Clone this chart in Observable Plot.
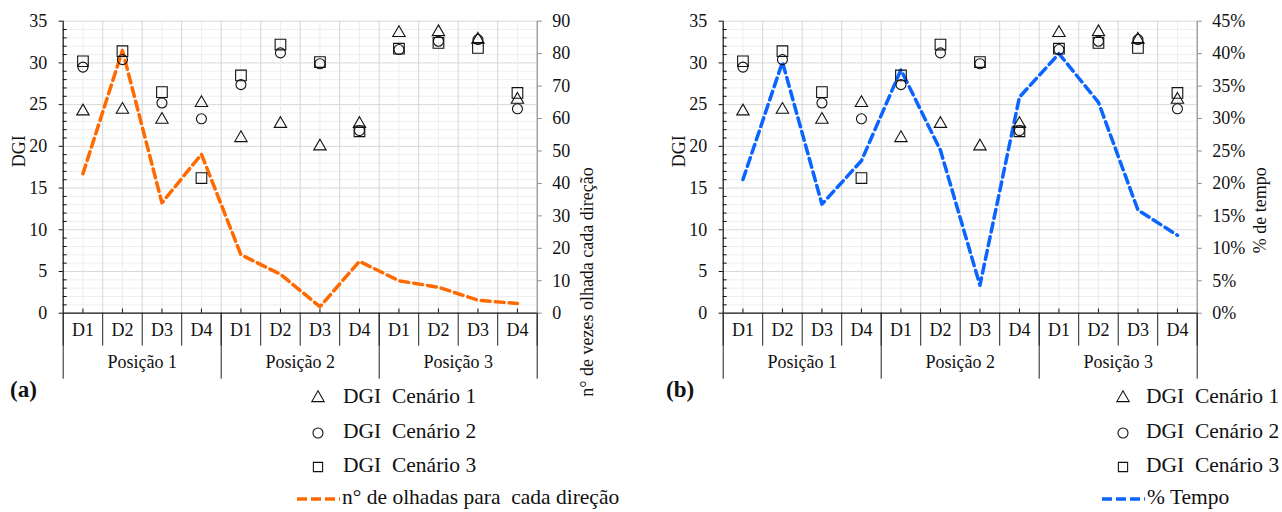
<!DOCTYPE html>
<html>
<head>
<meta charset="utf-8">
<script src="https://cdn.jsdelivr.net/npm/d3@7"></script>
<script src="https://cdn.jsdelivr.net/npm/@observablehq/plot@0.6"></script>
<style>
  body { margin: 0; background: #fff; }
  #wrap { position: relative; width: 1282px; height: 512px; font-family: "Liberation Serif", "Times New Roman", serif; color: #111; }
  .panel { position: absolute; top: 0; }
  .lg { position: absolute; font-size: 21.5px; white-space: pre; line-height: 1; }
  .lg svg { position: absolute; overflow: visible; }
  .tag { position: absolute; font-size: 23px; font-weight: bold; }
</style>
</head>
<body>
<div id="wrap"></div>
<script>
// ---- data ----
const directions = ["D1","D2","D3","D4","D1","D2","D3","D4","D1","D2","D3","D4"];
const positions = ["Posição 1","Posição 2","Posição 3"];
const dgiCenario1 = [24.2, 24.4, 23.2, 25.2, 21.0, 22.7, 20.0, 22.7, 33.6, 33.7, 32.8, 25.6];
const dgiCenario2 = [29.5, 30.4, 25.2, 23.3, 27.4, 31.2, 29.9, 21.9, 31.6, 32.6, 32.8, 24.5];
const dgiCenario3 = [30.2, 31.4, 26.5, 16.2, 28.5, 32.2, 30.1, 21.8, 31.7, 32.4, 31.8, 26.4];
const olhadas = [43, 81, 34, 49, 18, 12, 2, 16, 10, 8, 4, 3];          // right axis (a), 0–90
const tempoPct = [20.6, 38.7, 16.8, 23.5, 37.5, 25.1, 4.3, 33.3, 40.0, 32.5, 15.9, 12.0]; // right axis (b), 0–45 %
const dgiTicks = [0, 5, 10, 15, 20, 25, 30, 35];
const olhadasTicks = [0, 10, 20, 30, 40, 50, 60, 70, 80, 90];
const tempoTicks = [0, 5, 10, 15, 20, 25, 30, 35, 40, 45];

const FONT = '"Liberation Serif", "Times New Roman", serif';
const rows = directions.map((d, i) => ({
  i, x: i + 0.5, dir: d,
  c1: dgiCenario1[i], c2: dgiCenario2[i], c3: dgiCenario3[i],
  olh: olhadas[i] * 35 / 90,
  tmp: tempoPct[i] * 35 / 45
}));
const groups = positions.map((p, g) => ({ x: g * 4 + 2, label: p }));

function panel(opts) {
  const minor = d3.range(0, 36).filter(v => v % 5 !== 0);
  return Plot.plot({
    width: opts.width, height: 385,
    marginLeft: opts.ml, marginRight: opts.mr, marginTop: 20.7, marginBottom: 72.3,
    style: { fontFamily: FONT, fontSize: "18px", background: "transparent", overflow: "visible", color: "#111" },
    x: { domain: [0, 12] },
    y: { domain: [0, 35] },
    marks: [
      // grid
      Plot.ruleY(minor, { stroke: "#efefef", strokeWidth: 1 }),
      Plot.ruleY(dgiTicks.slice(1), { stroke: "#d9d9d9", strokeWidth: 1 }),
      Plot.ruleX(rows, { x: "x", stroke: "#ececec", strokeWidth: 1 }),
      Plot.ruleX(d3.range(1, 12), { stroke: "#d6d6d6", strokeWidth: 1 }),
      // axes lines
      Plot.ruleX([12], { stroke: "#8c8c8c", strokeWidth: 1.2 }),
      Plot.ruleX([0], { stroke: "#111", strokeWidth: 1.2 }),
      Plot.ruleY([0], { stroke: "#111", strokeWidth: 1.2 }),
      // minor ticks on left axis and category ticks
      Plot.ruleY(minor, { x1: 0, x2: 0.1, stroke: "#111" }),
      Plot.ruleX(rows, { x: "x", y1: 0, y2: 0.5, stroke: "#111" }),
      // left axis
      Plot.axisY({ anchor: "left", ticks: dgiTicks, tickSize: 4, tickPadding: 12, label: null, stroke: "#111" }),
      // right axis
      Plot.axisY({ anchor: "right", ticks: opts.rTicks.map(v => v * 35 / opts.rMax), tickSize: 4, tickPadding: 11,
                   tickFormat: v => Math.round(v * opts.rMax / 35) + opts.suffix, label: null, stroke: "#8c8c8c" }),
      // category separators below axis
      Plot.axisX({ anchor: "bottom", ticks: d3.range(0, 13), tickSize: 33, tickFormat: () => "", label: null, stroke: "#222" }),
      Plot.axisX({ anchor: "bottom", ticks: [0, 4, 8, 12], tickSize: 66, tickFormat: () => "", label: null, stroke: "#222" }),
      Plot.text(rows, { x: "x", text: "dir", frameAnchor: "bottom", dy: 22.8, fontSize: 18, fill: "#111" }),
      Plot.text(groups, { x: "x", text: "label", frameAnchor: "bottom", dy: 55, fontSize: 18, fill: "#111" }),
      // axis titles
      Plot.text(["DGI"], { frameAnchor: "left", dx: -44, rotate: -90, fontSize: 18, fill: "#111" }),
      Plot.text([opts.rLabel], { frameAnchor: "right", dx: opts.rdx, rotate: -90, fontSize: 18, fill: "#111" }),
      // series
      Plot.line(rows, { x: "x", y: opts.lineKey, stroke: opts.color, strokeWidth: 3.5, strokeDasharray: "9,5" }),
      Plot.dot(rows, { x: "x", y: "c1", symbol: "triangle", r: 4.6, stroke: "#111", strokeWidth: 1.1, fill: "none" }),
      Plot.dot(rows, { x: "x", y: "c2", symbol: "circle", r: 5, stroke: "#111", strokeWidth: 1.1, fill: "none" }),
      Plot.dot(rows, { x: "x", y: "c3", symbol: "square", r: 6, stroke: "#111", strokeWidth: 1.1, fill: "none" })
    ]
  });
}

const wrap = document.getElementById("wrap");

const pa = panel({ width: 640, ml: 62.7, mr: 103.3, rTicks: olhadasTicks, rMax: 90, suffix: "",
  rLabel: "n° de vezes olhada cada direção", rdx: 50, lineKey: "olh", color: "#FF6A00" });
pa.classList.add("panel"); pa.style.left = "0px";
wrap.appendChild(pa);

const pb = panel({ width: 642, ml: 82.7, mr: 85.3, rTicks: tempoTicks, rMax: 45, suffix: "%",
  rLabel: "% de tempo", rdx: 63, lineKey: "tmp", color: "#0A64FF" });
pb.classList.add("panel"); pb.style.left = "640px";
wrap.appendChild(pb);

// ---- legends ----
function sym(type) {
  const s = d3.symbol().type(type === "triangle" ? d3.symbolTriangle : type === "circle" ? d3.symbolCircle : d3.symbolSquare)
    .size(type === "triangle" ? Math.PI * 4.6 * 4.6 : type === "circle" ? Math.PI * 25 : Math.PI * 36 * 0.75);
  return `<svg width="1" height="1" style="left:0;top:0"><path d="${s()}" fill="none" stroke="#111" stroke-width="1.1"/></svg>`;
}
function legend(symX, textX, lineLabel, color) {
  const items = [["triangle", "DGI  Cenário 1", 398], ["circle", "DGI  Cenário 2", 433], ["square", "DGI  Cenário 3", 467]];
  for (const [t, label, y] of items) {
    const s = document.createElement("div");
    s.className = "lg"; s.style.left = symX + "px"; s.style.top = y + "px";
    s.innerHTML = sym(t);
    wrap.appendChild(s);
    const tx = document.createElement("div");
    tx.className = "lg"; tx.style.left = textX + "px"; tx.style.top = (y - 12) + "px";
    tx.textContent = label;
    wrap.appendChild(tx);
  }
  const ln = document.createElement("div");
  ln.className = "lg"; ln.style.left = (symX - 21) + "px"; ln.style.top = "499px";
  ln.innerHTML = `<svg width="1" height="1" style="left:0;top:0"><line x1="0" x2="43" y1="0" y2="0" stroke="${color}" stroke-width="3.5" stroke-dasharray="10,4"/></svg>`;
  wrap.appendChild(ln);
  const lt = document.createElement("div");
  lt.className = "lg"; lt.style.left = (symX + 24) + "px"; lt.style.top = "487px";
  lt.textContent = lineLabel;
  wrap.appendChild(lt);
}
legend(318, 343, "n° de olhadas para  cada direção", "#FF6A00");
legend(1123, 1146, "% Tempo", "#0A64FF");

for (const [t, x] of [["(a)", 10], ["(b)", 666]]) {
  const d = document.createElement("div");
  d.className = "tag"; d.style.left = x + "px"; d.style.top = "377px";
  d.textContent = t;
  wrap.appendChild(d);
}
</script>
</body>
</html>
